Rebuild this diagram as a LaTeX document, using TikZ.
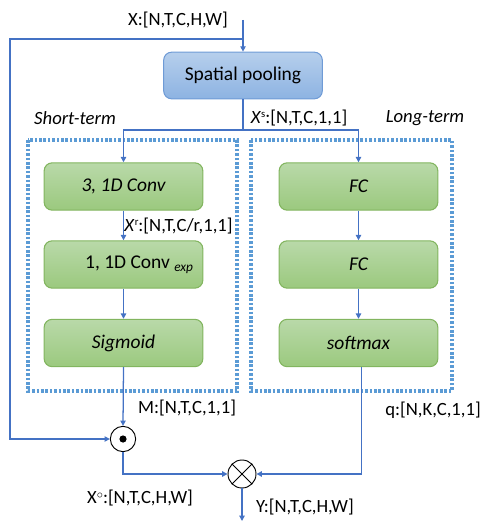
\documentclass[tikz,border=0pt]{standalone}
\usepackage{fontspec}
\setmainfont{Carlito}
\usetikzlibrary{arrows.meta}
\definecolor{linkblue}{HTML}{4472C4}
\definecolor{dotblue}{HTML}{5B9BD5}
\definecolor{poolborder}{HTML}{6F9BD6}
\definecolor{pooltop}{HTML}{B6CFEC}
\definecolor{poolbot}{HTML}{8DB3E2}
\definecolor{greenborder}{HTML}{82B55F}
\definecolor{greentop}{HTML}{B9D9A9}
\definecolor{greenbot}{HTML}{9BC97E}
\tikzset{
  lbl/.style={font=\fontsize{14}{16}\selectfont, inner sep=0pt},
  pool/.style={draw=poolborder, line width=0.8pt, rounded corners=6pt,
    top color=pooltop, bottom color=poolbot,
    minimum width=119pt, minimum height=35pt,
    font=\fontsize{14.6}{17}\selectfont},
  opbox/.style={draw=greenborder, line width=0.8pt, rounded corners=6pt,
    top color=greentop, bottom color=greenbot,
    minimum width=119pt, minimum height=35.5pt,
    font=\fontsize{14.6}{17}\selectfont\itshape},
  branch/.style={draw=dotblue, line width=2.4pt, dash pattern=on 2pt off 1.3pt},
  link/.style={draw=linkblue, line width=0.95pt},
  arr/.style={link, -{Triangle[length=4pt,width=4pt]}},
  opcirc/.style={circle, draw=black, line width=0.7pt, fill=white, inner sep=0pt},
}
\begin{document}
\begin{tikzpicture}[x=0.75pt, y=-0.75pt]
\useasboundingbox (0,0) rectangle (485,523);

% dotted frames of the two branches
\draw[branch] (28,140) rectangle (237,391);
\draw[branch] (251,140) rectangle (452,391);

% processing blocks
\node[pool] (sp) at (243,75.5) {Spatial pooling};
\node[opbox] (conv3) at (123.5,186.5) {3, 1D Conv};
\node[opbox, font=\fontsize{14.6}{17}\selectfont] (conv1) at (123.5,264.5)
  {\hspace*{1.6em}1, 1D Conv {\fontsize{10}{12}\selectfont\itshape\raisebox{-0.45ex}{exp}}};
\node[opbox] (sig) at (123.5,343) {Sigmoid};
\node[opbox] (fc1) at (358.5,186.5) {FC};
\node[opbox] (fc2) at (358.5,264.5) {FC};
\node[opbox] (soft) at (358.5,343) {softmax};

% element-wise product and weighted sum
\node[opcirc, minimum size=19pt] (odot) at (123,439) {};
\fill (odot.center) circle (3.6);
\node[opcirc, minimum size=21pt] (otimes) at (242,474) {};
\draw[line width=0.7pt] (otimes.north east) -- (otimes.south west);
\draw[line width=0.7pt] (otimes.north west) -- (otimes.south east);

% texts
\node[lbl] (xin-lbl) at (178,20) {X:[N,T,C,H,W]};
\node[lbl, font=\fontsize{14}{16}\selectfont\itshape] (short) at (75,118) {Short-term};
\node[lbl, font=\fontsize{14}{16}\selectfont\itshape] (long) at (425,118) {Long-term};
\node[lbl] (xs-lbl) at (299,118) {\textit{X}\raisebox{0.7ex}{\fontsize{8}{9}\selectfont s}:[N,T,C,1,1]};
\node[lbl] (xr-lbl) at (178.5,226) {\textit{X}\raisebox{0.7ex}{\fontsize{8}{9}\selectfont r}:[N,T,C/r,1,1]};
\node[lbl] (m-lbl) at (187,408) {M:[N,T,C,1,1]};
\node[lbl] (q-lbl) at (433,410) {q:[N,K,C,1,1]};
\node[lbl] (xo-lbl) at (140,498) {X\raisebox{0.6ex}{\fontsize{9}{10}\selectfont$\circ$}:[N,T,C,H,W]};
\node[lbl] (y-lbl) at (305,507) {Y:[N,T,C,H,W]};

% connector points
\coordinate (xin) at (243,20);
\coordinate (split) at (243,39);
\coordinate (leftrail) at (10,39);
\coordinate (fork) at (243,130);
\coordinate (yout) at (242,521);

% connectors
\draw[arr] (xin) -- (sp.north);
\draw[arr] (split) -- (leftrail) |- (odot.west);
\draw[link] (sp.south) -- (fork);
\draw[arr] (fork) -| (conv3.north);
\draw[arr] (fork) -| (fc1.north);
\draw[arr] (conv3) -- (conv1);
\draw[arr] (conv1) -- (sig);
\draw[arr] (fc1) -- (fc2);
\draw[arr] (fc2) -- (soft);
\draw[arr] (sig.south) -- (odot.north);
\draw[arr] (odot.south) |- (otimes.west);
\draw[arr] ([xshift=2pt]soft.south) |- (otimes.east);
\draw[arr] (otimes.south) -- (yout);
\end{tikzpicture}
\end{document}
